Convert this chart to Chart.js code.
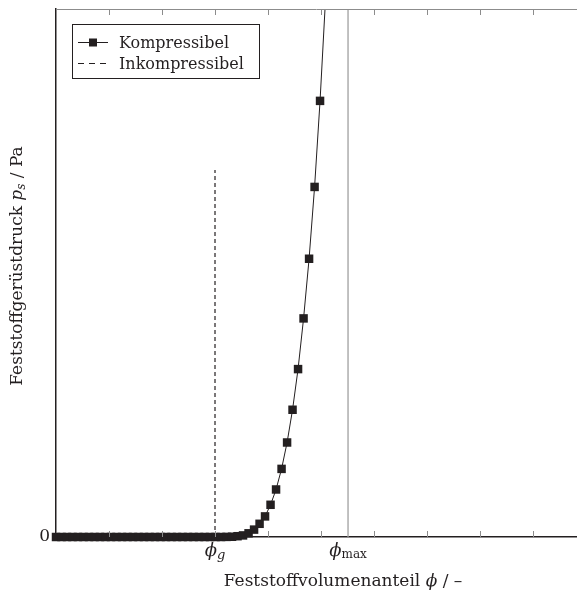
<!DOCTYPE html>
<html>
<head>
<meta charset="utf-8">
<script src="https://cdn.jsdelivr.net/npm/chart.js@4.4.1/dist/chart.umd.min.js"></script>
<style>
  html, body { margin: 0; padding: 0; background: #ffffff; }
  #wrap { position: relative; width: 577px; height: 594px; }
</style>
</head>
<body>
<div id="wrap"><canvas id="c" width="577" height="594"></canvas></div>
<script>
// ---- data (x in tick units, y in % of plot height) ----
const phiValues = [0, 0.104, 0.208, 0.311, 0.415, 0.519, 0.623, 0.727, 0.830, 0.934,
  1.038, 1.142, 1.246, 1.349, 1.453, 1.557, 1.661, 1.765, 1.868, 1.972,
  2.076, 2.180, 2.284, 2.387, 2.491, 2.595, 2.699, 2.803, 2.906, 3.010,
  3.114, 3.218, 3.322, 3.425, 3.529, 3.633, 3.737, 3.841, 3.944, 4.048,
  4.152, 4.256, 4.360, 4.463, 4.567, 4.671, 4.775, 4.879, 4.982, 5.086];
const pressureValues = [0, 0, 0, 0, 0, 0, 0, 0, 0, 0,
  0, 0, 0, 0, 0, 0, 0, 0, 0, 0,
  0, 0, 0, 0, 0, 0, 0, 0, 0, 0,
  0, 0.02, 0.05, 0.15, 0.3, 0.7, 1.4, 2.5, 3.9, 6.1,
  9.0, 12.9, 17.9, 24.1, 31.8, 41.4, 52.7, 66.3, 82.6, 102];
const phiG = 3.0;           // gel point
const phiMax = 5.51;        // maximum packing
const incompressibleTop = 69.5;
const xTicks = [1, 2, 3, 4, 5, 6, 7, 8, 9];
const yTickLabels = ['0'];
const seriesNames = ['Kompressibel', 'Inkompressibel'];

const INK = '#231f20';
const SERIF = '"DejaVu Serif", "Liberation Serif", serif';

function drawRich(ctx, segs, x, y, align) {
  let w = 0;
  segs.forEach(s => { ctx.font = s.font; w += ctx.measureText(s.t).width; });
  let cx = align === 'center' ? x - w / 2 : (align === 'right' ? x - w : x);
  ctx.textAlign = 'left';
  ctx.textBaseline = 'alphabetic';
  segs.forEach(s => {
    ctx.font = s.font;
    ctx.fillText(s.t, cx, y + (s.dy || 0));
    cx += ctx.measureText(s.t).width;
  });
}

const decor = {
  id: 'decor',
  afterDraw(chart) {
    const ctx = chart.ctx;
    const a = chart.chartArea;
    const xs = chart.scales.x;
    const ys = chart.scales.y;
    ctx.save();
    // top frame line
    ctx.strokeStyle = '#8c8c8c';
    ctx.lineWidth = 1;
    ctx.beginPath();
    ctx.moveTo(a.left, a.top + 0.5);
    ctx.lineTo(a.right, a.top + 0.5);
    ctx.stroke();
    // inward ticks top and bottom
    xTicks.forEach(v => {
      const px = Math.round(xs.getPixelForValue(v)) + 0.5;
      ctx.beginPath();
      ctx.moveTo(px, a.bottom); ctx.lineTo(px, a.bottom - 6);
      ctx.moveTo(px, a.top); ctx.lineTo(px, a.top + 6);
      ctx.stroke();
    });
    ctx.fillStyle = INK;
    // y tick label
    ctx.font = '17px ' + SERIF;
    ctx.textAlign = 'right';
    ctx.textBaseline = 'middle';
    ctx.fillText(yTickLabels[0], a.left - 6, ys.getPixelForValue(0));
    // x tick labels
    const pg = xs.getPixelForValue(phiG);
    drawRich(ctx, [
      {t: '\u03D5', font: 'italic 18px ' + SERIF},
      {t: 'g', font: 'italic 13px ' + SERIF, dy: 3}
    ], pg, 556, 'center');
    const pm = xs.getPixelForValue(phiMax);
    drawRich(ctx, [
      {t: '\u03D5', font: 'italic 18px ' + SERIF},
      {t: 'max', font: '12px ' + SERIF, dy: 2}
    ], pm, 556, 'center');
    // x title
    drawRich(ctx, [
      {t: 'Feststoffvolumenanteil ', font: '17px ' + SERIF},
      {t: '\u03D5', font: 'italic 17px ' + SERIF},
      {t: ' / \u2013', font: '17px ' + SERIF}
    ], 343, 586, 'center');
    // y title
    ctx.save();
    ctx.translate(22, 266);
    ctx.rotate(-Math.PI / 2);
    drawRich(ctx, [
      {t: 'Feststoffgerüstdruck ', font: '17px ' + SERIF},
      {t: 'p', font: 'italic 17px ' + SERIF},
      {t: 's', font: 'italic 12px ' + SERIF, dy: 3},
      {t: ' / Pa', font: '17px ' + SERIF}
    ], 0, 0, 'center');
    ctx.restore();
    // legend
    const L = {x: 72, y: 24, w: 187, h: 54};
    ctx.fillStyle = '#ffffff';
    ctx.fillRect(L.x, L.y, L.w, L.h);
    ctx.strokeStyle = INK;
    ctx.lineWidth = 1;
    ctx.strokeRect(L.x + 0.5, L.y + 0.5, L.w, L.h);
    // entry 1
    ctx.beginPath();
    ctx.moveTo(78, 42.5); ctx.lineTo(108, 42.5);
    ctx.stroke();
    ctx.fillStyle = INK;
    ctx.fillRect(89, 38.5, 8, 8);
    ctx.font = '16px ' + SERIF;
    ctx.textAlign = 'left';
    ctx.textBaseline = 'alphabetic';
    ctx.fillText(seriesNames[0], 119, 48);
    // entry 2
    ctx.lineWidth = 1.2;
    ctx.setLineDash([6, 5]);
    ctx.beginPath();
    ctx.moveTo(78, 63.5); ctx.lineTo(106, 63.5);
    ctx.stroke();
    ctx.setLineDash([]);
    ctx.fillText(seriesNames[1], 119, 69);
    ctx.restore();
  }
};

new Chart(document.getElementById('c'), {
  type: 'line',
  data: {
    datasets: [
      {
        label: seriesNames[0],
        data: phiValues.map((x, i) => ({x: x, y: pressureValues[i]})),
        borderColor: INK,
        backgroundColor: INK,
        borderWidth: 1,
        pointStyle: 'rect',
        pointRadius: 6,
        pointBorderWidth: 0,
        pointBackgroundColor: INK,
        tension: 0,
        clip: {left: 8, top: 0, right: 0, bottom: 8},
        order: 0
      },
      {
        label: seriesNames[1],
        data: [{x: phiG, y: 0}, {x: phiG, y: incompressibleTop}],
        borderColor: INK,
        borderWidth: 1.2,
        borderDash: [4, 3],
        pointRadius: 0,
        order: 1
      },
      {
        label: 'phiMax',
        data: [{x: phiMax, y: 0}, {x: phiMax, y: 100}],
        borderColor: '#a0a0a0',
        borderWidth: 1.3,
        pointRadius: 0,
        order: 2
      }
    ]
  },
  options: {
    responsive: false,
    animation: false,
    devicePixelRatio: 1,
    layout: {autoPadding: false, padding: {top: 9, right: 0, left: 0, bottom: 0}},
    plugins: {legend: {display: false}, tooltip: {enabled: false}},
    scales: {
      x: {
        type: 'linear',
        min: 0,
        max: 9.83,
        grid: {display: false},
        border: {display: true, color: INK, width: 1.5},
        ticks: {display: false},
        afterFit: s => { s.height = 57; }
      },
      y: {
        type: 'linear',
        min: 0,
        max: 100,
        grid: {display: false},
        border: {display: true, color: INK, width: 1.5},
        ticks: {display: false},
        afterFit: s => { s.width = 56; }
      }
    }
  },
  plugins: [decor]
});
</script>
</body>
</html>
